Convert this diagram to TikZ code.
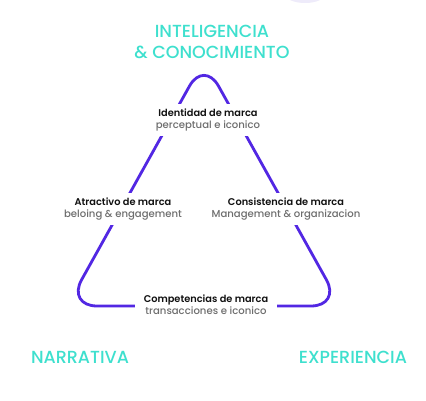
\documentclass[tikz,border=0pt]{standalone}
\usepackage{fontspec}
\setmainfont{Poppins}[UprightFont={* Medium}, BoldFont={* SemiBold}]
\usetikzlibrary{calc}
\definecolor{turq}{HTML}{3EE0CE}
\definecolor{violet}{HTML}{5227E3}
\definecolor{subgray}{HTML}{6E6E6E}
\definecolor{titleblk}{HTML}{111111}
\definecolor{lav}{HTML}{EEEBFA}
\tikzset{
  heading/.style={text=turq, font=\fontsize{17.5}{21}\selectfont, align=center, inner sep=0pt},
  label/.style={fill=white, align=center, inner xsep=6pt, inner ysep=4.5pt, font=\fontsize{9.8}{12}\selectfont},
  tri/.style={draw=violet, line width=2.8pt, rounded corners=30pt, line join=round}
}
\newcommand{\lbl}[2]{{\color{titleblk}\bfseries #1}\\{\color{subgray}\fontsize{10.1}{12}\selectfont #2}}
\begin{document}
\begin{tikzpicture}[x=1pt,y=-1pt]
\useasboundingbox[fill=white] (0,0) rectangle (426,401);
\fill[lav] (305,-6) ellipse [x radius=20, y radius=9];
\coordinate (apex) at (204,60);
\coordinate (bl) at (67,306);
\coordinate (br) at (341,306);
\draw[tri] ($(bl)!0.5!(br)$) -- (br) -- (apex) -- (bl) -- cycle;
\node[heading] (intel) at (212,42) {INTELIGENCIA\\\& CONOCIMIENTO};
\node[label] (ident) at (208,120) {\lbl{Identidad de marca}{perceptual e iconico}};
\node[label] (atrac) at (123,209) {\lbl{Atractivo de marca}{beloing \& engagement}};
\node[label] (consis) at (286,209) {\lbl{Consistencia de marca}{Management \& organizacion}};
\node[label, inner xsep=9pt] (compet) at (206,305) {\lbl{Competencias de marca}{transacciones e iconico}};
\node[heading] (narr) at (80,357) {NARRATIVA};
\node[heading] (exper) at (353,357) {EXPERIENCIA};
\end{tikzpicture}
\end{document}
